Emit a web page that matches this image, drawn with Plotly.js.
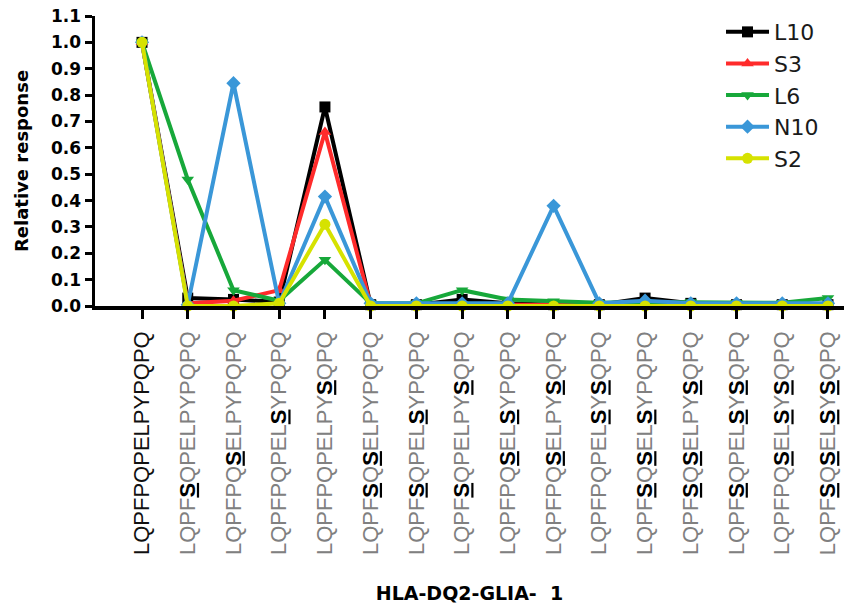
<!DOCTYPE html>
<html><head><meta charset="utf-8">
<script src="https://cdn.plot.ly/plotly-3.0.1.min.js"></script>
<style>html,body{margin:0;padding:0;background:#fff}#chart{width:844px;height:604px}</style>
</head><body><div id="chart"></div>
<script>
// Peptide tick labels; [S] marks a substituted serine (drawn bold + underlined)
const peptides = [
  "LQPFPQPELPYPQPQ",
  "LQPF[S]QPELPYPQPQ",
  "LQPFPQ[S]ELPYPQPQ",
  "LQPFPQPEL[S]YPQPQ",
  "LQPFPQPELPY[S]QPQ",
  "LQPF[S]Q[S]ELPYPQPQ",
  "LQPF[S]QPEL[S]YPQPQ",
  "LQPF[S]QPELPY[S]QPQ",
  "LQPFPQ[S]EL[S]YPQPQ",
  "LQPFPQ[S]ELPY[S]QPQ",
  "LQPFPQPEL[S]Y[S]QPQ",
  "LQPF[S]Q[S]EL[S]YPQPQ",
  "LQPF[S]Q[S]ELPY[S]QPQ",
  "LQPF[S]QPEL[S]Y[S]QPQ",
  "LQPFPQ[S]EL[S]Y[S]QPQ",
  "LQPF[S]Q[S]EL[S]Y[S]QPQ"
];
const seriesNames = ["L10", "S3", "L6", "N10", "S2"];
const L10 = [1.0, 0.03, 0.025, 0.015, 0.755, 0.005, 0.005, 0.025, 0.01, 0.005, 0.005, 0.03, 0.01, 0.005, 0.005, 0.005];
const S3  = [1.0, 0.01, 0.02, 0.06, 0.66, 0.005, 0.005, 0.005, 0.005, 0.005, 0.005, 0.005, 0.005, 0.005, 0.005, 0.005];
const L6  = [1.0, 0.48, 0.06, 0.02, 0.175, 0.01, 0.01, 0.06, 0.025, 0.018, 0.012, 0.015, 0.015, 0.012, 0.012, 0.03];
const N10 = [1.0, 0.005, 0.845, 0.01, 0.415, 0.01, 0.01, 0.01, 0.01, 0.38, 0.01, 0.02, 0.01, 0.01, 0.01, 0.01];
const S2  = [1.0, 0.0, 0.0, 0.01, 0.31, 0.0, 0.0, 0.0, 0.0, 0.0, 0.0, 0.0, 0.0, 0.0, 0.0, 0.0];
const yTitle = "Relative response";
const xTitle = "HLA-DQ2-GLIA-\u00a0 1";

const seriesValues = [L10, S3, L6, N10, S2];
const colors = ["#000000", "#ff2b2b", "#17a83a", "#3a97d8", "#d6e200"];
const symbols = ["square", "triangle-up", "triangle-down", "diamond", "circle"];

const idx = peptides.map((_, i) => i);
const ticktext = peptides.map(p => {
  if (p.indexOf("[S]") < 0) return '<span style="color:#111111">' + p + '</span>';
  return p.replace(/\[S\]/g, '<span style="color:#000000"><b><u>S</u></b></span>');
});

const traces = seriesNames.map((name, k) => ({
  type: "scatter",
  mode: "lines+markers",
  name: name,
  x: idx,
  y: seriesValues[k],
  cliponaxis: false,
  line: {color: colors[k], width: 4},
  marker: {color: colors[k], symbol: symbols[k], size: 11}
}));

const layout = {
  width: 844, height: 604,
  margin: {l: 95, r: 0, t: 16, b: 298},
  paper_bgcolor: "#ffffff", plot_bgcolor: "#ffffff",
  showlegend: true,
  legend: {
    x: 0.8358, xanchor: "left", y: 1.017, yanchor: "top",
    itemwidth: 43,
    font: {family: "DejaVu Sans", size: 22, color: "#1a1a1a"},
    bgcolor: "rgba(0,0,0,0)"
  },
  xaxis: {
    range: [-1.028, 15.35],
    tickmode: "array", tickvals: idx, ticktext: ticktext,
    tickangle: -90,
    ticks: "outside", ticklen: 9, tickwidth: 3, tickcolor: "#000",
    ticklabelstandoff: 4,
    showline: true, linewidth: 3.5, linecolor: "#000",
    showgrid: false, zeroline: false,
    tickfont: {family: "Liberation Sans, Arial", size: 22, color: "#808080"},
    title: {text: xTitle, standoff: 36,
      font: {family: "DejaVu Sans", size: 19, color: "#000", weight: "bold"}}
  },
  yaxis: {
    range: [0, 1.1], dtick: 0.1, tick0: 0, tickformat: ".1f",
    ticks: "outside", ticklen: 7, tickwidth: 3, tickcolor: "#000",
    showline: true, linewidth: 3.5, linecolor: "#000",
    showgrid: false, zeroline: false,
    tickfont: {family: "DejaVu Sans", size: 17, color: "#000", weight: "bold"},
    title: {text: yTitle, standoff: 18,
      font: {family: "DejaVu Sans", size: 18, color: "#000", weight: "bold"}}
  }
};

Plotly.newPlot("chart", traces, layout, {staticPlot: true, displayModeBar: false});
</script>
</body></html>
